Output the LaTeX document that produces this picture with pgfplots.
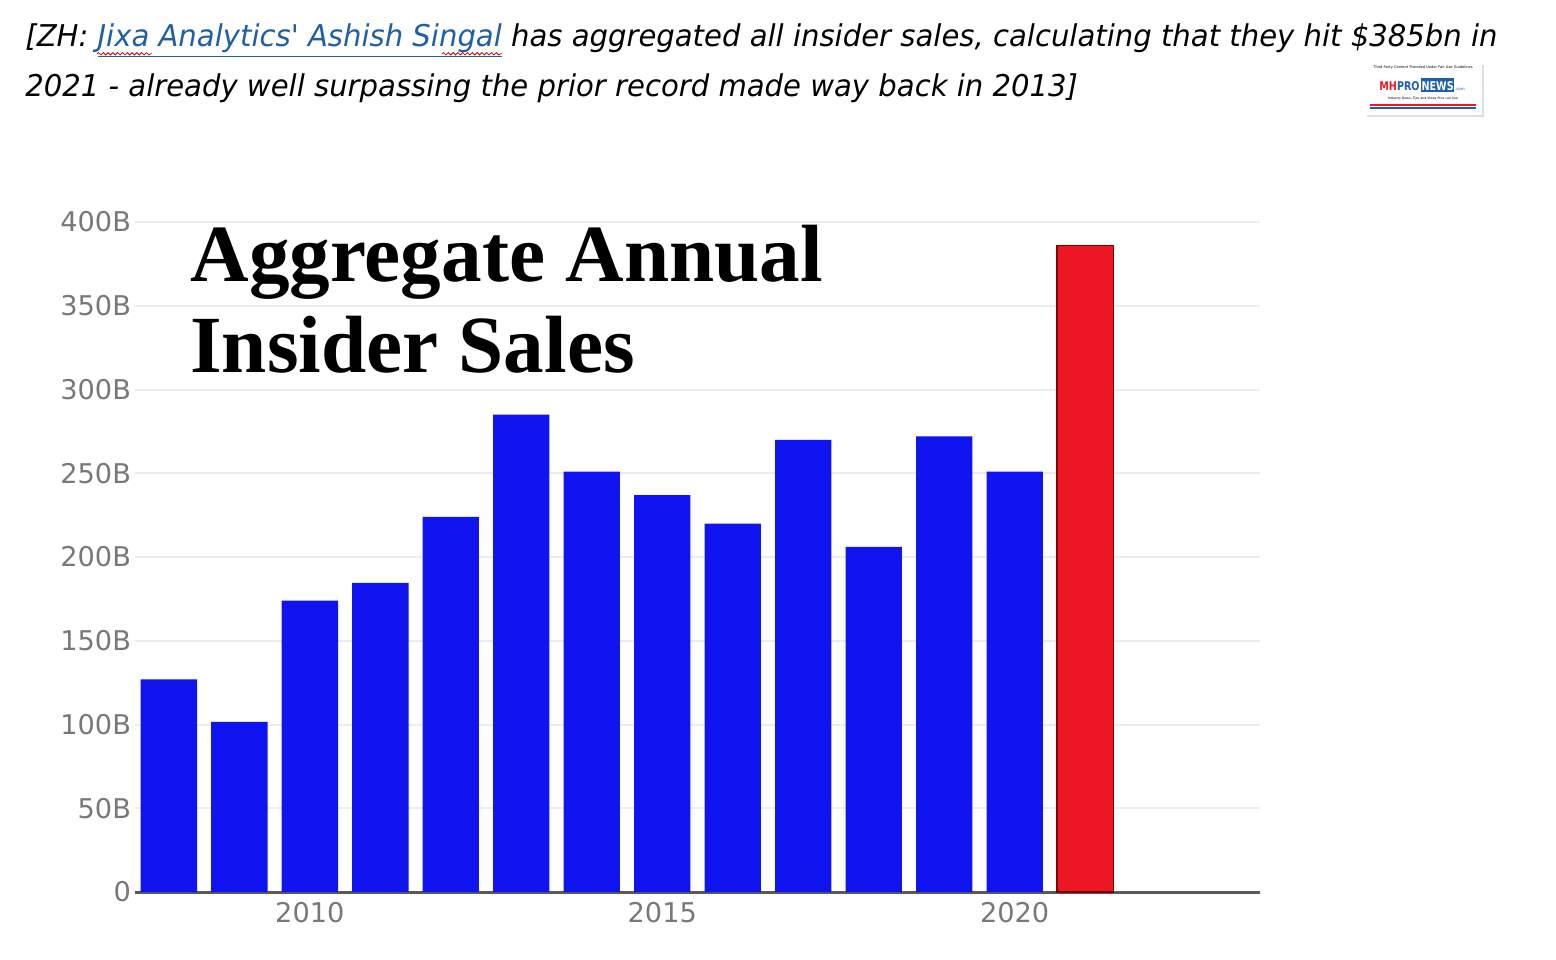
\documentclass[border=0pt]{standalone}
\usepackage{pgfplots}
\pgfplotsset{compat=1.18}
\usepackage{fontspec}
\setmainfont{DejaVu Sans}
\newfontfamily\headfont[FakeStretch=0.97]{DejaVu Sans}
\newfontfamily\logofont[FakeStretch=0.8]{DejaVu Sans}
\newfontfamily\titlefont{Liberation Serif}
\newfontfamily\tickfont{DejaVu Sans}
\usetikzlibrary{decorations.pathmorphing}
\definecolor{barblue}{RGB}{16,20,240}
\definecolor{barred}{RGB}{237,22,36}
\definecolor{linkblue}{RGB}{31,95,168}
\definecolor{tickgray}{RGB}{120,120,120}
\definecolor{gridgray}{RGB}{236,236,236}
\begin{document}
\begin{tikzpicture}
\useasboundingbox (0,0) rectangle (778pt,479.5pt);
% header text
\node[anchor=base west, inner sep=0] at (12.5pt,456pt) {\headfont\itshape\fontsize{15}{18}\selectfont [ZH: {\color{linkblue}\underline{Jixa Analytics' Ashish Singal}} has aggregated all insider sales, calculating that they hit \$385bn in};
\node[anchor=base west, inner sep=0] at (12.5pt,431pt) {\headfont\itshape\fontsize{15}{18}\selectfont 2021 - already well surpassing the prior record made way back in 2013]};
% spell-check squiggles
\draw[red!80!black, line width=0.4pt, decorate, decoration={snake, amplitude=0.6pt, segment length=2.4pt}] (48.5pt,452.6pt) -- (76pt,452.6pt);
\draw[red!80!black, line width=0.4pt, decorate, decoration={snake, amplitude=0.6pt, segment length=2.4pt}] (221pt,452.6pt) -- (251pt,452.6pt);
% logo
\fill[gray!25] (683.5pt,421pt) rectangle (742pt,447pt);
\fill[white] (682.5pt,422pt) rectangle (741pt,448pt);
\node[inner sep=0, font=\fontsize{1.8}{2}\selectfont] at (711.5pt,445.5pt) {Third Party Content Provided Under Fair Use Guidelines};
\node[inner sep=0, anchor=base east, font=\logofont\bfseries\fontsize{6}{7}\selectfont] at (710pt,434pt) {{\color{barred}MH}{\color{linkblue}PRO}};
\fill[linkblue] (710.3pt,433.3pt) rectangle (726.8pt,440.5pt);
\node[inner sep=0, anchor=base west, font=\logofont\bfseries\fontsize{6}{7}\selectfont, text=white] at (710.6pt,434pt) {NEWS};
\node[inner sep=0, anchor=base west, font=\fontsize{2}{2}\selectfont, text=linkblue] at (727.3pt,434pt) {.com};
\node[inner sep=0, font=\fontsize{1.6}{2}\selectfont] at (711.5pt,430pt) {Industry News, Tips and Views Pros can Use};
\draw[barred, line width=0.6pt] (685pt,427pt) -- (738pt,427pt);
\draw[linkblue, line width=0.6pt] (685pt,425.5pt) -- (738pt,425.5pt);
\begin{axis}[
  at={(67.5pt,33.5pt)}, anchor=south west,
  scale only axis, width=562.5pt, height=335pt,
  xmin=2007.52, xmax=2023.48, ymin=0, ymax=400,
  axis x line=bottom, axis y line=left,
  x axis line style={draw=black!65, line width=1.5pt, -},
  y axis line style={draw=none},
  ytick={0,50,100,150,200,250,300,350,400},
  yticklabels={0,50B,100B,150B,200B,250B,300B,350B,400B},
  xtick={2010,2015,2020},
  xticklabels={2010,2015,2020},
  major tick length=0pt,
  ymajorgrids, grid style={draw=gridgray, line width=1pt},
  tick label style={font=\tickfont\fontsize{13.6}{15}\selectfont, text=tickgray},
  /pgf/number format/assume math mode=true,
  yticklabel style={xshift=1.5pt},
  xticklabel style={yshift=-1.5pt},
  clip=false,
]
\addplot[ybar, bar width=0.8, fill=barblue, draw=none] coordinates {
(2008,127) (2009,101.5) (2010,174) (2011,184.5) (2012,224) (2013,285)
(2014,251) (2015,237) (2016,220) (2017,270) (2018,206) (2019,272) (2020,251)
};
\addplot[ybar, bar width=0.8, fill=barred, draw=red!50!black, line width=0.6pt] coordinates {(2021,386)};
\end{axis}
\node[anchor=base west, inner sep=0, font=\titlefont\bfseries\fontsize{40.6}{45}\selectfont] at (95pt,338.5pt) {Aggregate Annual};
\node[anchor=base west, inner sep=0, font=\titlefont\bfseries\fontsize{40.6}{45}\selectfont] at (95pt,293pt) {Insider Sales};
\end{tikzpicture}
\end{document}
